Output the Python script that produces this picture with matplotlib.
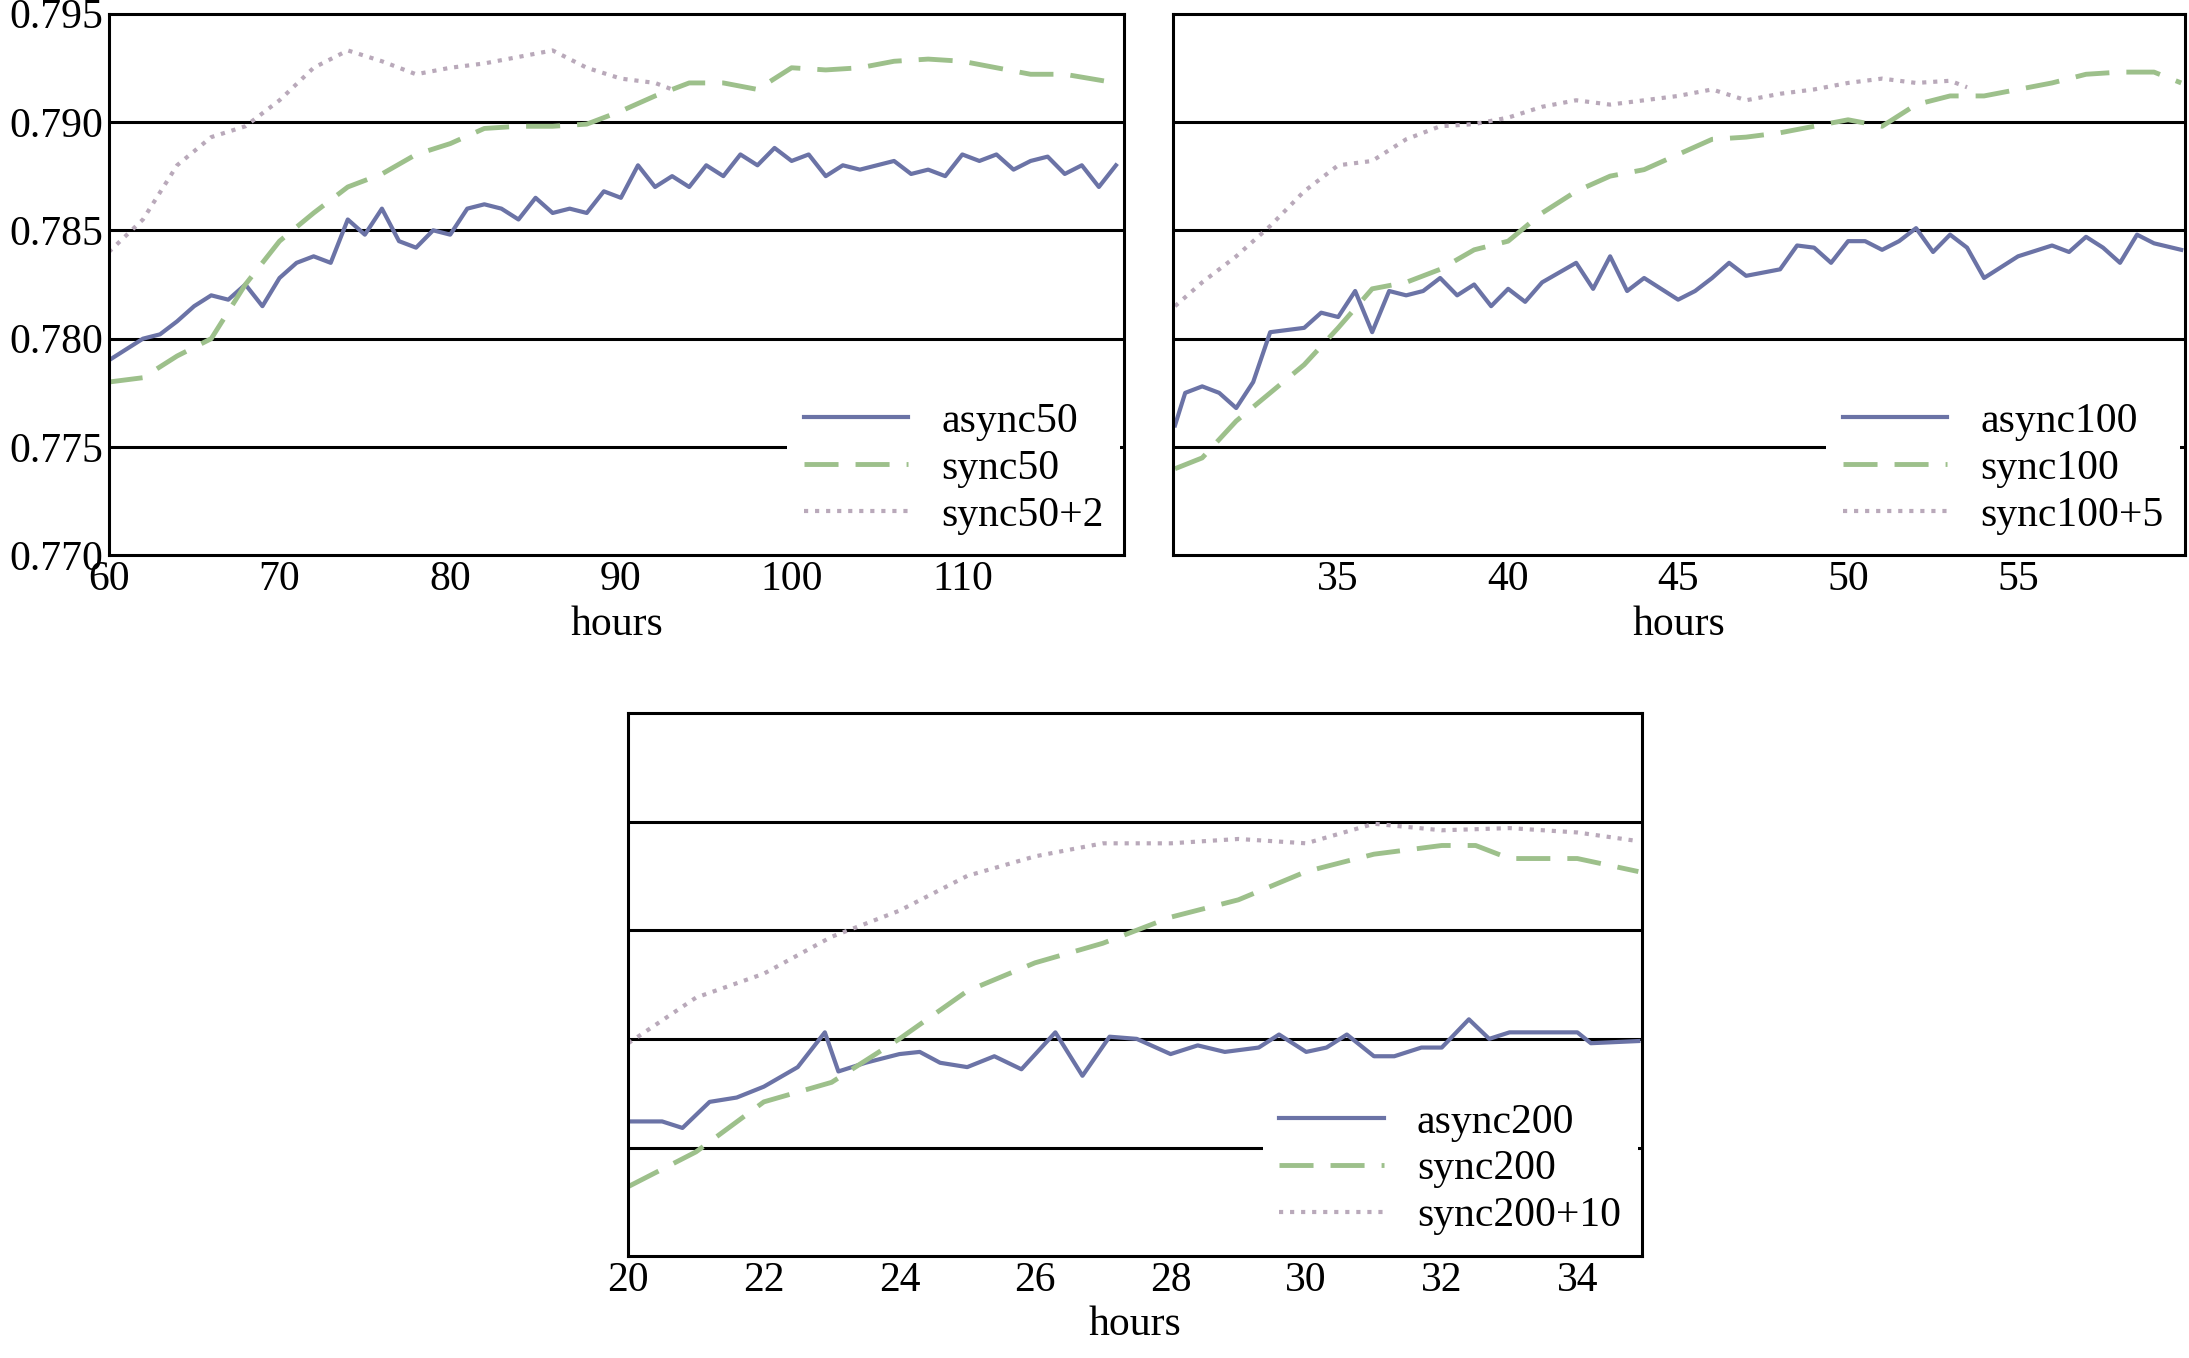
import matplotlib.pyplot as plt

plt.rcParams['font.family'] = ['Liberation Serif', 'DejaVu Serif']
plt.rcParams['font.size'] = 30

# panel 1 (50 workers)
a50_x = list(range(60, 120))
a50_y = [.779, .7795, .780, .7802, .7808, .7815, .782, .7818, .7825, .7815, .7828, .7835, .7838, .7835,
         .7855, .7848, .786, .7845, .7842, .785, .7848, .786, .7862, .786, .7855, .7865, .7858, .786,
         .7858, .7868, .7865, .788, .787, .7875, .787, .788, .7875, .7885, .788, .7888, .7882, .7885,
         .7875, .788, .7878, .788, .7882, .7876, .7878, .7875, .7885, .7882, .7885, .7878, .7882,
         .7884, .7876, .788, .787, .788]
s50_x = list(range(60, 118, 2)) + [119]
s50_y = [.778, .7782, .7792, .780, .7825, .7845, .7858, .787, .7876, .7885, .789, .7897, .7898, .7898,
         .7899, .7905, .7912, .7918, .7918, .7915, .7925, .7924, .7925, .7928, .7929, .7928, .7925,
         .7922, .7922, .7918]
s50p_x = list(range(60, 94, 2)) + [93]
s50p_y = [.784, .7855, .788, .7893, .7898, .791, .7925, .7933, .7928, .7922, .7925, .7927, .793, .7933,
          .7925, .792, .7918, .7915]

# panel 2 (100 workers)
a100_x = [30.2, 30.5, 31, 31.5, 32, 32.5, 33, 34, 34.5, 35, 35.5, 36, 36.5, 37, 37.5, 38, 38.5, 39,
          39.5, 40, 40.5, 41, 42, 42.5, 43, 43.5, 44, 45, 45.5, 46, 46.5, 47, 48, 48.5, 49, 49.5, 50,
          50.5, 51, 51.5, 52, 52.5, 53, 53.5, 54, 55, 56, 56.5, 57, 57.5, 58, 58.5, 59, 59.8]
a100_y = [.776, .7775, .7778, .7775, .7768, .778, .7803, .7805, .7812, .781, .7822, .7803, .7822, .782,
          .7822, .7828, .782, .7825, .7815, .7823, .7817, .7826, .7835, .7823, .7838, .7822, .7828,
          .7818, .7822, .7828, .7835, .7829, .7832, .7843, .7842, .7835, .7845, .7845, .7841, .7845,
          .7851, .784, .7848, .7842, .7828, .7838, .7843, .784, .7847, .7842, .7835, .7848, .7844, .7841]
s100_x = [30.2] + list(range(31, 60)) + [59.8]
s100_y = [.774, .7745, .7762, .7775, .7788, .7805, .7823, .7826, .7832, .7841, .7845, .7858, .7868,
          .7875, .7878, .7885, .7892, .7893, .7895, .7898, .7901, .7898, .7908, .7912, .7912, .7915,
          .7918, .7922, .7923, .7923, .7918]
s100p_x = [30.2] + list(range(31, 54)) + [53.5]
s100p_y = [.7815, .7826, .7838, .7852, .7868, .788, .7882, .7892, .7898, .7899, .7902, .7907, .791,
           .7908, .791, .7912, .7915, .791, .7913, .7915, .7918, .792, .7918, .7919, .7916]

# panel 3 (200 workers)
a200_x = [20, 20.5, 20.8, 21.2, 21.6, 22, 22.5, 22.9, 23.1, 23.5, 24, 24.3, 24.6, 25, 25.4, 25.8, 26.3,
          26.7, 27.1, 27.5, 28, 28.4, 28.8, 29.3, 29.6, 30, 30.3, 30.6, 31, 31.3, 31.7, 32, 32.4, 32.7,
          33, 33.5, 34, 34.2, 34.9]
a200_y = [.7762, .7762, .7759, .7771, .7773, .7778, .7787, .7803, .7785, .7789, .7793, .7794, .7789,
          .7787, .7792, .7786, .7803, .7783, .7801, .7800, .7793, .7797, .7794, .7796, .7802, .7794,
          .7796, .7802, .7792, .7792, .7796, .7796, .7809, .7800, .7803, .7803, .7803, .7798, .7799]
s200_x = [20, 21, 22, 23, 24, 25, 26, 27, 28, 29, 30, 31, 32, 32.5, 33, 34, 34.9]
s200_y = [.7732, .7748, .7771, .7780, .7800, .7822, .7835, .7844, .7856, .7864, .7877, .7885, .7889,
          .7889, .7883, .7883, .7877]
s200p_x = [20, 21, 22, 23, 24, 25, 26, 27, 28, 29, 30, 31, 32, 33, 34, 34.9]
s200p_y = [.7798, .7819, .7830, .7847, .7859, .7875, .7884, .7890, .7890, .7892, .7890, .7899, .7896,
           .7897, .7895, .7891]

c_async, c_sync, c_plus = '#6b73a6', '#9dc08b', '#b9a9ba'

fig = plt.figure(figsize=(21.89, 13.58), dpi=100)
axes = [fig.add_axes([0.0497, 0.591, 0.464, 0.399]),
        fig.add_axes([0.536, 0.591, 0.462, 0.399]),
        fig.add_axes([0.287, 0.075, 0.463, 0.4])]
panels = [
    (a50_x, a50_y, s50_x, s50_y, s50p_x, s50p_y, '50', '+2', (60, 119.5), [60, 70, 80, 90, 100, 110]),
    (a100_x, a100_y, s100_x, s100_y, s100p_x, s100p_y, '100', '+5', (30.15, 59.9), [35, 40, 45, 50, 55]),
    (a200_x, a200_y, s200_x, s200_y, s200p_x, s200p_y, '200', '+10', (20, 34.95), [20, 22, 24, 26, 28, 30, 32, 34]),
]
for i, (ax, p) in enumerate(zip(axes, panels)):
    ax.plot(p[0], p[1], color=c_async, lw=3, label='async' + p[6])
    ax.plot(p[2], p[3], color=c_sync, lw=3.5, dashes=(7, 3.5), label='sync' + p[6])
    ax.plot(p[4], p[5], color=c_plus, lw=3, ls=':', label='sync' + p[6] + p[7])
    for g in [0.775, 0.780, 0.785, 0.790]:
        ax.axhline(g, color='black', lw=2.2, zorder=0)
    ax.set_xlim(*p[8])
    ax.set_ylim(0.770, 0.795)
    ax.set_xticks(p[9])
    ax.tick_params(length=0, pad=4)
    if i == 0:
        ax.set_yticks([0.770, 0.775, 0.780, 0.785, 0.790, 0.795])
        ax.set_yticklabels(['0.770', '0.775', '0.780', '0.785', '0.790', '0.795'])
    else:
        ax.set_yticks([])
    for s in ax.spines.values():
        s.set_linewidth(2.2)
    ax.set_xlabel('hours', labelpad=4)
    leg = ax.legend(loc='lower right', frameon=True, framealpha=1, edgecolor='none',
                    fancybox=False, handlelength=2.5, borderaxespad=0.1, labelspacing=0.2)
    leg.get_frame().set_linewidth(0)

fig.savefig('out.png', dpi=100)
